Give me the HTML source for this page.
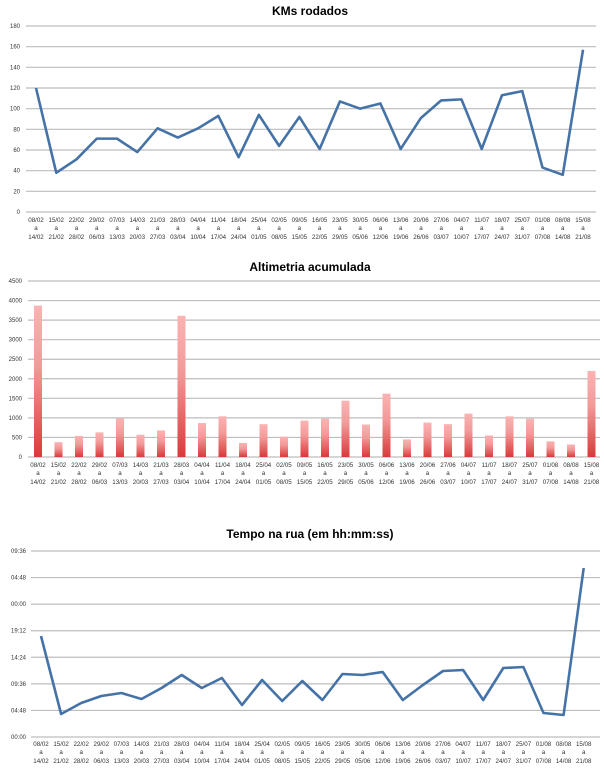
<!DOCTYPE html>
<html><head><meta charset="utf-8"><style>
html,body{margin:0;padding:0;background:#fff;}
svg{display:block;font-family:"Liberation Sans",sans-serif;}
</style></head><body>
<svg id="s" width="604" height="768" xmlns="http://www.w3.org/2000/svg">
<defs>
<linearGradient id="g" x1="0" y1="1" x2="0" y2="0">
<stop offset="0" stop-color="#d93a3a"/><stop offset="0.6" stop-color="#f39a9a"/><stop offset="1" stop-color="#fbb3b3"/>
</linearGradient>
</defs>
<text x="310" y="15" font-size="12" font-weight="bold" text-anchor="middle">KMs rodados</text>
<text x="310" y="271" font-size="12" font-weight="bold" text-anchor="middle">Altimetria acumulada</text>
<text x="310" y="538" font-size="12" font-weight="bold" text-anchor="middle">Tempo na rua (em hh:mm:ss)</text>
</svg>
<script>
var s=document.getElementById('s'),NS='http://www.w3.org/2000/svg';
function el(t,a,txt){var e=document.createElementNS(NS,t);for(var k in a)e.setAttribute(k,a[k]);if(txt!=null)e.textContent=txt;s.appendChild(e);return e;}
var L=["08/02|14/02","15/02|21/02","22/02|28/02","29/02|06/03","07/03|13/03","14/03|20/03","21/03|27/03","28/03|03/04","04/04|10/04","11/04|17/04","18/04|24/04","25/04|01/05","02/05|08/05","09/05|15/05","16/05|22/05","23/05|29/05","30/05|05/06","06/06|12/06","13/06|19/06","20/06|26/06","27/06|03/07","04/07|10/07","11/07|17/07","18/07|24/07","25/07|31/07","01/08|07/08","08/08|14/08","15/08|21/08"];
function grid(x0,x1,yTop,yBot,labels,lx){var n=labels.length-1;for(var i=0;i<=n;i++){var y=yBot-(yBot-yTop)*i/n;el('line',{x1:x0,x2:x1,y1:y,y2:y,stroke:'#bdbdbd','stroke-width':1.2});el('text',{x:lx,y:y+2,'font-size':6,'text-anchor':'end',fill:'#333'},labels[i]);}}
function xl(xs,ys){for(var i=0;i<28;i++){var p=L[i].split('|');el('text',{x:xs(i),y:ys[0],'font-size':6.2,'text-anchor':'middle',fill:'#333'},p[0]);el('text',{x:xs(i),y:ys[1],'font-size':6.2,'text-anchor':'middle',fill:'#333'},'a');el('text',{x:xs(i),y:ys[2],'font-size':6.2,'text-anchor':'middle',fill:'#333'},p[1]);}}
// chart1
grid(26,596,26,212,['0','20','40','60','80','100','120','140','160','180'],20);
var k=[120,38,51,71,71,58,81,72,81,93,53,94,64,92,61,107,100,105,61,91,108,109,61,113,117,43,36,157];
var x1=function(i){return 36+i*20.26;};
el('polyline',{points:k.map(function(v,i){return x1(i)+','+(212-v*186/180);}).join(' '),fill:'none',stroke:'#4573a7','stroke-width':2.6,'stroke-linejoin':'round'});
xl(x1,[222,230,239]);
// chart2
grid(28,600,281,457,['0','500','1000','1500','2000','2500','3000','3500','4000','4500'],22);
var a=[3870,380,540,630,990,570,680,3610,870,1040,360,840,520,930,980,1440,830,1620,450,880,840,1110,550,1040,980,400,320,2200];
var x2=function(i){return 38+i*20.5;};
a.forEach(function(v,i){var h=v*176/4500;el('rect',{x:x2(i)-4,y:457-h,width:8,height:h,fill:'url(#g)'});});
xl(x2,[467,475,484]);
// chart3
grid(31,600,551,737,['00:00','04:48','09:36','14:24','19:12','00:00','04:48','09:36'],26);
var t=[636,714,703,696,693,699,688,675,688,678,705,680,701,681,700,674,675,672,700,685,671,670,700,668,667,713,715,568];
var x3=function(i){return 41+i*20.1;};
el('polyline',{points:t.map(function(v,i){return x3(i)+','+v;}).join(' '),fill:'none',stroke:'#4573a7','stroke-width':2.6,'stroke-linejoin':'round'});
xl(x3,[746,754,763]);
</script>
</body></html>
